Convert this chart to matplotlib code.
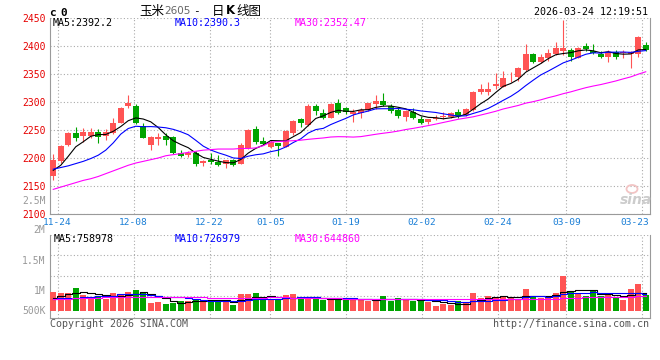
import numpy as np
import pandas as pd
import matplotlib
matplotlib.use('Agg')
import matplotlib.pyplot as plt
import matplotlib.transforms as mtransforms
from matplotlib.patches import Ellipse

# 1. Данни (прочетени от картинката) - C2605, дневни свещи
opens = [2168, 2194, 2224, 2244, 2239, 2240, 2246, 2240, 2245, 2263,
         2293, 2292, 2257, 2223, 2234, 2239, 2238, 2209, 2206, 2209,
         2191, 2196, 2193, 2190, 2197, 2190, 2217, 2251, 2230, 2220,
         2226, 2220, 2245, 2270, 2259, 2293, 2281, 2272, 2299, 2289,
         2279, 2281, 2286, 2296, 2302, 2293, 2286, 2273, 2283, 2269,
         2264, 2270, 2273, 2274, 2283, 2277, 2286, 2317, 2318, 2328,
         2327, 2342, 2344, 2357, 2385, 2371, 2378, 2386, 2391, 2392,
         2379, 2400, 2391, 2386, 2380, 2390, 2388, 2386, 2386, 2402]
highs = [2208, 2223, 2247, 2256, 2254, 2254, 2252, 2252, 2271, 2291,
         2312, 2296, 2262, 2239, 2245, 2245, 2240, 2214, 2213, 2213,
         2197, 2209, 2205, 2196, 2198, 2226, 2251, 2257, 2238, 2233,
         2227, 2250, 2268, 2272, 2296, 2297, 2287, 2298, 2305, 2291,
         2287, 2290, 2299, 2312, 2316, 2297, 2291, 2286, 2290, 2275,
         2270, 2276, 2282, 2283, 2287, 2290, 2320, 2332, 2336, 2351,
         2355, 2354, 2362, 2403, 2388, 2386, 2394, 2408, 2446, 2397,
         2398, 2406, 2404, 2391, 2392, 2393, 2392, 2391, 2418, 2408]
lows = [2161, 2191, 2221, 2230, 2228, 2236, 2227, 2233, 2242, 2262,
        2290, 2260, 2235, 2215, 2224, 2224, 2208, 2201, 2201, 2185,
        2186, 2190, 2185, 2183, 2186, 2189, 2216, 2225, 2223, 2217,
        2204, 2219, 2241, 2256, 2257, 2276, 2269, 2271, 2279, 2278,
        2264, 2271, 2284, 2287, 2293, 2281, 2272, 2266, 2269, 2260,
        2261, 2268, 2269, 2271, 2271, 2275, 2284, 2315, 2312, 2323,
        2326, 2335, 2338, 2355, 2369, 2369, 2374, 2384, 2384, 2373,
        2378, 2391, 2385, 2378, 2372, 2376, 2378, 2361, 2380, 2391]
closes = [2197, 2222, 2245, 2235, 2246, 2246, 2237, 2246, 2263, 2289,
          2298, 2262, 2236, 2238, 2238, 2233, 2209, 2203, 2209, 2190,
          2194, 2192, 2187, 2196, 2188, 2223, 2250, 2229, 2225, 2229,
          2221, 2249, 2266, 2262, 2292, 2284, 2272, 2297, 2281, 2283,
          2283, 2286, 2298, 2302, 2294, 2284, 2275, 2284, 2272, 2263,
          2269, 2272, 2274, 2281, 2275, 2288, 2318, 2323, 2323, 2333,
          2343, 2343, 2361, 2386, 2372, 2381, 2387, 2396, 2397, 2380,
          2397, 2395, 2388, 2380, 2389, 2381, 2389, 2390, 2416, 2393]

# обем (в хиляди)
volumes = [817, 788, 788, 1003, 688, 616, 616, 530, 788, 717,
           817, 903, 817, 330, 387, 315, 358, 430, 430, 530,
           430, 473, 473, 387, 272, 731, 731, 788, 473, 473,
           473, 688, 731, 502, 602, 502, 473, 473, 573, 473,
           573, 473, 430, 502, 645, 430, 573, 516, 430, 516,
           387, 215, 315, 258, 430, 387, 774, 573, 645, 573,
           602, 573, 516, 960, 645, 573, 573, 774, 1505, 860,
           717, 645, 860, 645, 717, 573, 473, 960, 1175, 674]

# началото на средните (преди да има достатъчно свещи)
ma5_head = [2178, 2187, 2203, 2220]
ma10_head = [2180, 2183, 2186, 2190, 2194, 2199, 2205, 2214, 2227]
ma30_head = [2144, 2148, 2152, 2156, 2160, 2163, 2167, 2172, 2177, 2182,
             2187, 2191, 2194, 2197, 2200, 2204, 2206, 2208, 2210, 2212,
             2214, 2215, 2216, 2216, 2216, 2217, 2217, 2218, 2222]
vma5_head = [580, 640, 720, 790]
vma10_head = [520, 540, 560, 580, 600, 620, 640, 650, 660]
vma30_head = [516, 525, 535, 545, 555, 565, 575, 585, 590, 595,
              600, 600, 598, 596, 594, 592, 590, 588, 586, 584,
              582, 580, 578, 576, 574, 573, 573, 573, 573]

date_labels = ['11-24', '12-08', '12-22', '01-05', '01-19', '02-02', '02-24', '03-09', '03-23']
date_idx = [1, 11, 21, 29, 39, 49, 59, 68, 78]
price_ticks = [2100, 2150, 2200, 2250, 2300, 2350, 2400, 2450]
vol_labels = ['2.5M', '2M', '1.5M', '1M', '500K']
vol_label_px = [200.5, 230.5, 260.5, 291, 311]

RED = '#ff5454'
GREEN = '#00a400'
GRID = '#aaaaaa'
FRAME = '#9a9a9a'


def moving_avg(values, n, head):
    s = pd.Series(values, dtype=float).rolling(n).mean().values
    s[:n - 1] = head
    return s


plt.rcParams['font.family'] = ['DejaVu Sans Mono', 'Noto Sans CJK SC']

W, H = 660, 360
fig = plt.figure(figsize=(W / 100, H / 100), dpi=100)
fig.patch.set_facecolor('white')

# панели в пиксели: ляво 49.5, дясно 649.5
ax = fig.add_axes([49.5 / W, 1 - 214 / H, 600 / W, 196 / H])
axv = fig.add_axes([49.5 / W, 1 - 318.3 / H, 600 / W, 83.3 / H])

x = np.arange(len(closes))
o = np.array(opens, float)
c = np.array(closes, float)
up = c >= o
colors = np.where(up, RED, GREEN)

# 2. Свещи
ax.vlines(x, lows, highs, colors=colors, lw=0.8, zorder=3)
body_low = np.minimum(o, c)
body_h = np.maximum(np.abs(c - o), 1.6)
ax.bar(x, body_h, 0.8, body_low, color=colors, lw=0, zorder=3)

ax.plot(x, moving_avg(closes, 5, ma5_head), color='black', lw=0.8, zorder=4)
ax.plot(x, moving_avg(closes, 10, ma10_head), color='#0000ff', lw=0.8, zorder=4)
ax.plot(x, moving_avg(closes, 30, ma30_head), color='#ff00ff', lw=0.8, zorder=4)

ax.set_xlim(-0.5, len(closes) - 0.5)
ax.set_ylim(2100, 2450)
ax.set_yticks(price_ticks)
ax.set_yticklabels([str(p) for p in price_ticks])
ax.tick_params(axis='y', length=0, pad=3, labelsize=7, labelcolor='#e60000')
ax.set_xticks([])
ax.yaxis.grid(True, color=GRID, lw=0.8, linestyle=(0, (1, 2)))

# 3. Обем
axv.bar(x, volumes, 0.8, color=colors, lw=0, zorder=3)
axv.plot(x, moving_avg(volumes, 5, vma5_head), color='black', lw=0.8, drawstyle='steps-mid', zorder=4)
axv.plot(x, moving_avg(volumes, 10, vma10_head), color='#0000ff', lw=0.8, drawstyle='steps-mid', zorder=4)
axv.plot(x, moving_avg(volumes, 30, vma30_head), color='#ff00ff', lw=0.8, drawstyle='steps-mid', zorder=4)
k_per_px = 43.0
axv.set_xlim(-0.5, len(closes) - 0.5)
axv.set_ylim(-(318.3 - 311) * k_per_px, (311 - 235) * k_per_px)
axv.set_yticks([(311 - py) * k_per_px for py in (235, 255.3, 275.7, 296)])
axv.set_yticklabels([])
axv.set_xticks([])
axv.tick_params(axis='y', length=0)
axv.yaxis.grid(True, color=GRID, lw=0.8, linestyle=(0, (1, 2)))

# вертикални линии по датите (Sina ги слага през 600/79 px)
grid_x = [i * 80 / 79 - 0.43 for i in date_idx]
for a in (ax, axv):
    for gx in grid_x:
        a.axvline(gx, color=GRID, lw=0.8, linestyle=(0, (1, 2)), zorder=1)
    a.set_axisbelow(True)
    a.spines['top'].set_visible(False)
    for s in ('left', 'right', 'bottom'):
        a.spines[s].set_color(FRAME)
        a.spines[s].set_linewidth(0.8)
    a.set_facecolor('white')

trans = mtransforms.blended_transform_factory(ax.transData, ax.transAxes)
for i, (gx, lab) in enumerate(zip(grid_x, date_labels)):
    if i == len(date_labels) - 1:
        ax.text(1.0, -0.041, lab, transform=ax.transAxes, ha='right', va='center',
                fontsize=6.8, color='#1a7ed6')
    else:
        ax.text(gx, -0.041, lab, transform=trans, ha='center', va='center',
                fontsize=6.8, color='#1a7ed6')

for lab, py in zip(vol_labels, vol_label_px):
    fig.text(45.5 / W, 1 - py / H, lab, ha='right', va='center', fontsize=7, color='#999999')

# 4. Надписи
fig.text(49 / W, 1 - 12.5 / H, 'c', fontsize=8, fontweight='bold', va='center')
fig.text(60 / W, 1 - 12.5 / H, '0', fontsize=8, fontweight='bold', va='center')
fig.text(139 / W, 1 - 11 / H, '玉米', fontsize=9, va='center', family=['Noto Sans CJK SC'])
fig.text(164 / W, 1 - 11.5 / H, '2605', fontsize=7.5, va='center', color='#666666', family=['DejaVu Sans'])
fig.text(193 / W, 1 - 11 / H, '-', fontsize=8, va='center')
fig.text(212 / W, 1 - 11 / H, '日', fontsize=9, va='center', family=['Noto Sans CJK SC'])
fig.text(226 / W, 1 - 11 / H, 'K', fontsize=8.5, fontweight='bold', va='center', family=['DejaVu Sans'])
fig.text(236 / W, 1 - 11 / H, '线图', fontsize=9, va='center', family=['Noto Sans CJK SC'])
fig.text(648 / W, 1 - 12 / H, '2026-03-24 12:19:51', ha='right', va='center', fontsize=7.2)

fig.text(53 / W, 1 - 23.5 / H, 'MA5:2392.2', va='center', fontsize=7.2, color='black')
fig.text(175 / W, 1 - 23.5 / H, 'MA10:2390.3', va='center', fontsize=7.2, color='#0000ff')
fig.text(295 / W, 1 - 23.5 / H, 'MA30:2352.47', va='center', fontsize=7.2, color='#ff00ff')
fig.text(54 / W, 1 - 239 / H, 'MA5:758978', va='center', fontsize=7.2, color='black')
fig.text(175 / W, 1 - 239 / H, 'MA10:726979', va='center', fontsize=7.2, color='#0000ff')
fig.text(295 / W, 1 - 239 / H, 'MA30:644860', va='center', fontsize=7.2, color='#ff00ff')

fig.text(50 / W, 1 - 324 / H, 'Copyright 2026 SINA.COM', va='center', fontsize=7.2, color='#555555')
fig.text(649 / W, 1 - 324 / H, 'http://finance.sina.com.cn', ha='right', va='center',
         fontsize=7.2, color='#555555')

# воден знак sina
fig.add_artist(Ellipse((632 / W, 1 - 189 / H), 11 / W, 8 / H, transform=fig.transFigure,
                       fc='none', ec='#f2c4c4', lw=1.3))
fig.text(636 / W, 1 - 200 / H, 'sina', ha='center', va='center', fontsize=10, color='#cccccc',
         fontweight='bold', style='italic', family=['DejaVu Sans'])

fig.savefig('out.png', dpi=100)
